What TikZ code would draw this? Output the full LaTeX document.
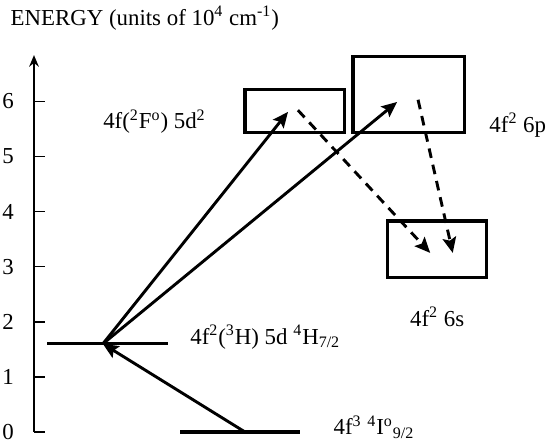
\documentclass[tikz,border=0pt]{standalone}
\usepackage{fontspec}
\setmainfont{Liberation Serif}
\usepackage{tikz}
\usetikzlibrary{arrows.meta}

\begin{document}
\begin{tikzpicture}[
            lvl/.style={line width=1.6pt},
            box/.style={draw,line width=1.6pt,inner sep=0pt},
            exc/.style={-{Stealth[length=8pt,width=7pt,inset=1.5pt]},line width=1.5pt},
            dec/.style={-{Stealth[length=8pt,width=7pt,inset=1.5pt]},line width=1.5pt,dash pattern=on 5pt off 3.6pt},
            lab/.style={inner sep=0pt,font=\fontsize{11.8}{13}\selectfont}]
            \useasboundingbox (-0.617,-0.254) rectangle (9.328,7.840);

            % energy axis with ticks 0..6
            \draw[-{Stealth[length=6pt,width=5pt]},line width=0.8pt] (0,0) -- (0,6.84);
            \foreach \e in {0,...,6} {
                \draw[line width=0.8pt] (0,\e) -- (0.2,\e);
                \node[lab] (t\e) at (-0.47,\e) {\e};
            }
            \node[lab,anchor=west] (title) at (-0.43,7.51)
                {ENERGY (units of 10\textsuperscript{4} cm\textsuperscript{-1})};

            % the two low levels
            \coordinate (g0) at (2.65,0);   \coordinate (g1) at (4.83,0);
            \coordinate (gs) at (3.83,0);
            \coordinate (m0) at (0.24,1.6); \coordinate (m1) at (2.43,1.6);
            \coordinate (ms) at (1.25,1.6);
            \draw[lvl] (g0) -- (g1);
            \draw[lvl] (m0) -- (m1);
            \node[lab,anchor=west] (lg) at (5.43,0.09)
                {4f\textsuperscript{3} \textsuperscript{4}I\textsuperscript{o}\textsubscript{9/2}};
            \node[lab,anchor=west] (lm) at (2.83,1.72)
                {4f\textsuperscript{2}(\textsuperscript{3}H) 5d \textsuperscript{4}H\textsubscript{7/2}};

            % the three bands
            \draw[box] (3.83,5.44) rectangle (5.63,6.22);
            \draw[box] (5.79,5.44) rectangle (7.82,6.82);
            \draw[box] (6.41,2.81) rectangle (8.22,3.83);
            \node[lab,anchor=west] (ld) at (1.25,5.63)
                {4f(\textsuperscript{2}F\textsuperscript{o}) 5d\textsuperscript{2}};
            \node[lab,anchor=east] (lp) at (9.30,5.57) {4f\textsuperscript{2} 6p};
            \node[lab,anchor=west] (ls) at (6.82,2.09) {4f\textsuperscript{2} 6s};

            \coordinate (d5) at (4.61,5.81); \coordinate (d6) at (4.79,5.84);
            \coordinate (p5) at (6.59,5.99); \coordinate (p6) at (6.97,6.03);
            \coordinate (s1) at (7.19,3.25); \coordinate (s2) at (7.60,3.25);

            % excitation and decay
            \draw[exc] (gs) -- (ms);
            \draw[exc] (ms) -- (d5);
            \draw[exc] (ms) -- (p5);
            \draw[dec] (d6) -- (s1);
            \draw[dec] (p6) -- (s2);
        \end{tikzpicture}
\end{document}
